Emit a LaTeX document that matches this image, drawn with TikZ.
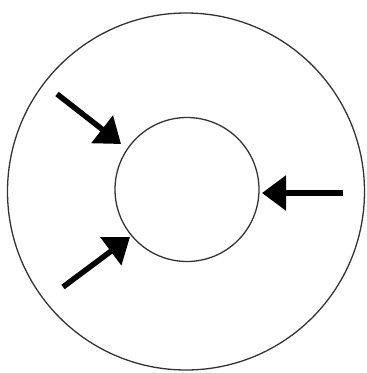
\documentclass[tikz,border=0pt]{standalone}
\usetikzlibrary{arrows.meta}
\begin{document}
\begin{tikzpicture}[x=1pt,y=-1pt,
  ring/.style={draw=black!80,line width=1.3pt,circle,inner sep=0pt},
  push/.style={line width=5.5pt,-{Triangle[length=24pt,width=34pt]}}]
\useasboundingbox[fill=white] (0,0) rectangle (367,373);
\node[ring,minimum size=357pt] (outer) at (186,191.5) {};
\node[ring,minimum size=144pt] (inner) at (187,189.5) {};
\coordinate (a1) at (57,94);
\coordinate (b1) at (121,144);
\coordinate (a2) at (343,193);
\coordinate (b2) at (262,193);
\coordinate (a3) at (63,287);
\coordinate (b3) at (130,237);
\draw[push] (a1) -- (b1);
\draw[push] (a2) -- (b2);
\draw[push] (a3) -- (b3);
\end{tikzpicture}
\end{document}
